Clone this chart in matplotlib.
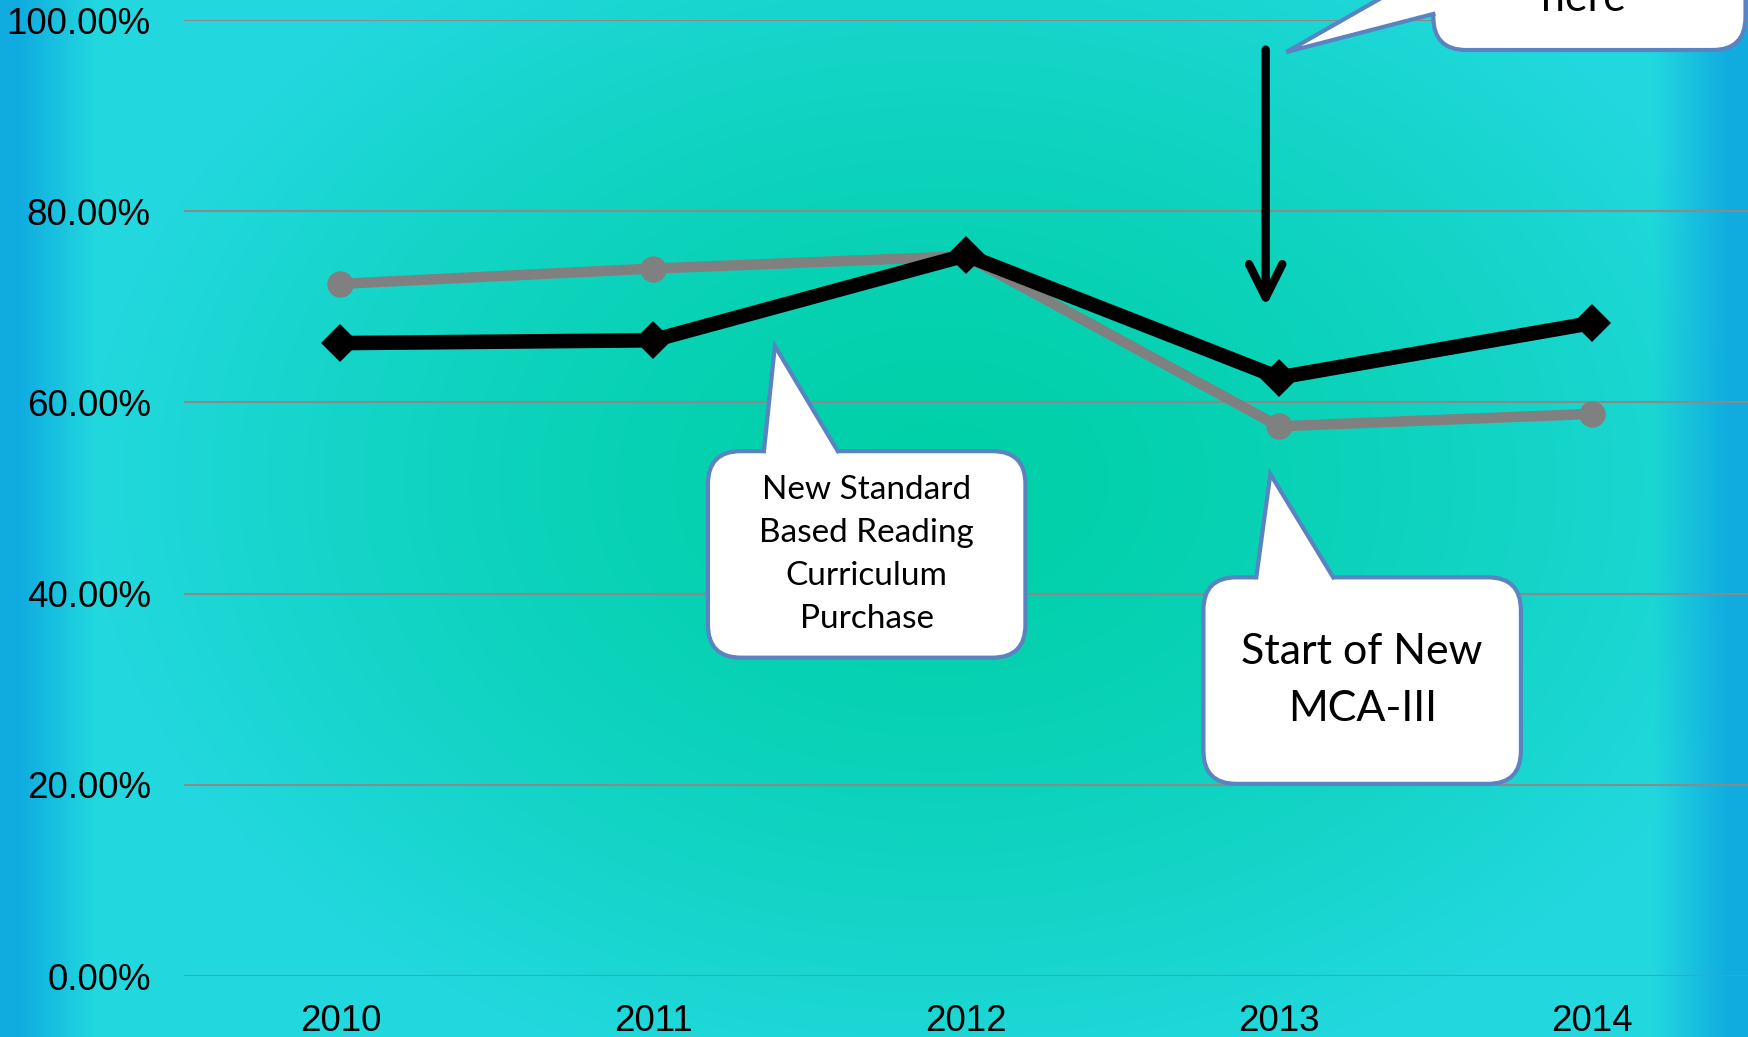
import numpy as np
import matplotlib
matplotlib.use('Agg')
import matplotlib.pyplot as plt
from matplotlib.patches import FancyBboxPatch, Polygon
from matplotlib.lines import Line2D
from matplotlib.transforms import IdentityTransform

# data
years = ['2010', '2011', '2012', '2013', '2014']
gray_vals = [0.724, 0.740, 0.753, 0.575, 0.588]
black_vals = [0.662, 0.665, 0.754, 0.626, 0.683]
y_ticks = [0.0, 0.2, 0.4, 0.6, 0.8, 1.0]
y_tick_labels = ['0.00%', '20.00%', '40.00%', '60.00%', '80.00%', '100.00%']

W, H, DPI = 1748, 1037, 100
fig = plt.figure(figsize=(W / DPI, H / DPI), dpi=DPI)

#
# background: teal radial glow with blue side bands
#
yy, xx = np.mgrid[0:H, 0:W].astype(float)
center = np.array([0, 208, 168]) / 255
outer = np.array([34, 216, 222]) / 255
blue = np.array([16, 172, 224]) / 255
r = np.sqrt(((xx - 940) / 850) ** 2 + ((yy - 480) / 620) ** 2)
t = np.clip(r, 0, 1) ** 1.5
bg = center + (outer - center) * t[..., None]
wl = np.clip(1 - (xx - 20) / 75, 0, 1)
wr = np.clip(1 - (W - 20 - xx) / 75, 0, 1)
w = np.maximum(wl, wr)[..., None]
bg = bg * (1 - w) + blue * w
bg_ax = fig.add_axes([0, 0, 1, 1], zorder=-1)
bg_ax.imshow(bg, aspect='auto', interpolation='bilinear')
bg_ax.axis('off')

#
# main chart
#
ax = fig.add_axes([184 / W, 61 / H, (W - 184) / W, (976 - 20) / H])
ax.set_facecolor('none')
x = np.arange(len(years))

ax.plot(x, gray_vals, color='#808080', lw=7.5, marker='o', markersize=19,
        markeredgewidth=0, zorder=3, clip_on=False)
ax.plot(x, black_vals, color='black', lw=10.5, marker='D', markersize=19,
        markeredgewidth=0, zorder=4, clip_on=False)

ax.set_xlim(-0.5, len(years) - 0.5)
ax.set_ylim(0, 1)
ax.set_xticks(x)
ax.set_xticklabels(years)
ax.set_yticks(y_ticks)
ax.set_yticklabels(y_tick_labels)
ax.tick_params(length=0, labelsize=26.5, labelcolor='black')
ax.tick_params(axis='y', pad=24)
ax.tick_params(axis='x', pad=20)
for lab in ax.get_xticklabels() + ax.get_yticklabels():
    lab.set_fontfamily('Liberation Sans')
for s in ax.spines.values():
    s.set_visible(False)
ax.grid(axis='y', color='#8a8a8a', lw=1.5, zorder=1)
ax.set_axisbelow(True)

# the black arrow pointing down at 2013
ax.annotate('', xy=(2.958, 0.700), xytext=(2.958, 0.969),
            arrowprops=dict(arrowstyle='->,head_length=0.4,head_width=0.2',
                            lw=6, color='black', mutation_scale=60,
                            shrinkA=0, shrinkB=0),
            zorder=6)

#
# callouts (drawn in pixel space so the corners stay round)
#
edge_col = '#5a83c1'
fig.canvas.draw()
to_px = ax.transData.transform


def callout(box, tip, base, side, text, fs, spacing=1.6, text_xy=None):
    (x0, y0), (x1, y1) = to_px((box[0], box[1])), to_px((box[2], box[3]))
    rect = FancyBboxPatch((x0, y0), x1 - x0, y1 - y0,
                          boxstyle='round,pad=0,rounding_size=33',
                          facecolor='white', edgecolor=edge_col, lw=3,
                          transform=IdentityTransform(), zorder=10, clip_on=False)
    ax.add_artist(rect)
    tp = to_px(tip)
    b1, b2 = to_px(base[0]), to_px(base[1])
    inward = np.array([0, -7]) if side == 'top' else np.array([7, 0])
    fill = Polygon([b1 + inward, b1, tp, b2, b2 + inward], closed=True,
                   facecolor='white', edgecolor='none',
                   transform=IdentityTransform(), zorder=11, clip_on=False)
    ax.add_artist(fill)
    sides = Line2D([b1[0], tp[0], b2[0]], [b1[1], tp[1], b2[1]], color=edge_col,
                   lw=3, solid_joinstyle='miter', transform=IdentityTransform(),
                   zorder=12, clip_on=False)
    ax.add_artist(sides)
    if text_xy is None:
        tx, ty = (box[0] + box[2]) / 2, (box[1] + box[3]) / 2
        ax.text(tx, ty, text, ha='center', va='center', fontsize=fs,
                family='Lato', linespacing=spacing, zorder=13, clip_on=False)
    else:
        ax.text(text_xy[0], text_xy[1], text, ha='center', va='baseline',
                fontsize=fs, family='Lato', zorder=13, clip_on=False)


callout(box=(1.175, 0.333, 2.190, 0.549), tip=(1.389, 0.659),
        base=((1.354, 0.549), (1.590, 0.549)), side='top',
        text='New Standard\nBased Reading\nCurriculum\nPurchase', fs=24,
        spacing=1.55)
callout(box=(2.759, 0.201, 3.774, 0.417), tip=(2.973, 0.525),
        base=((2.928, 0.417), (3.174, 0.417)), side='top',
        text='Start of New\nMCA-III', fs=31, spacing=1.6)
callout(box=(3.494, 0.9686, 4.492, 1.30), tip=(3.024, 0.9665),
        base=((3.494, 1.0063), (3.494, 1.054)), side='left',
        text='here', fs=31, text_xy=(3.974, 1.009))

fig.savefig('out.png', dpi=DPI)
